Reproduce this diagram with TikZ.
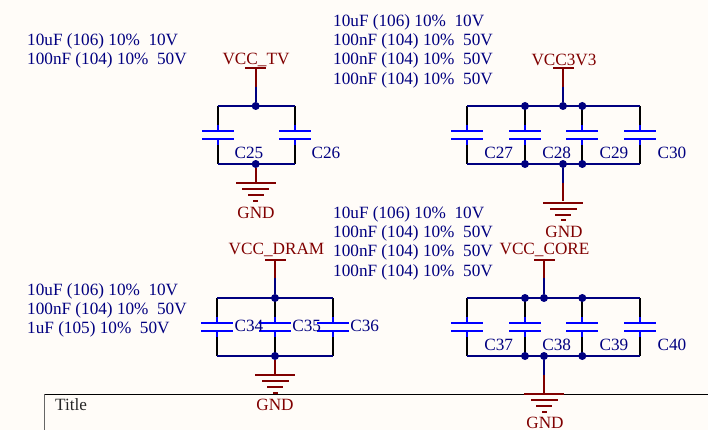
\documentclass[tikz,border=0pt]{standalone}
\usepackage{fontspec}
\setmainfont{Liberation Serif}
\usetikzlibrary{positioning}
\definecolor{paper}{HTML}{FFFCF8}
\definecolor{netblue}{HTML}{000080}
\definecolor{capblue}{HTML}{0000FF}
\definecolor{pwrred}{HTML}{800000}

\begin{document}
\begin{tikzpicture}[x=1pt,y=-1pt]
            \tikzstyle{wire} = [netblue, line width=2pt]
            \tikzstyle{lead} = [black, line width=2pt]
            \tikzstyle{stub} = [capblue, line width=2pt]
            \tikzstyle{pwr} = [pwrred, line width=2pt]
            \tikzstyle{plate} = [fill=capblue, inner sep=0pt, minimum width=32pt, minimum height=2.2pt]
            \tikzstyle{gbar} = [fill=pwrred, inner sep=0pt, minimum height=2.2pt]
            \tikzstyle{junction} = [fill=netblue, circle, inner sep=0pt, minimum size=8pt]
            \tikzstyle{note} = [netblue, anchor=north west, align=left, inner sep=0pt, font=\fontsize{17.2}{19.4}\selectfont]
            \tikzstyle{reflabel} = [netblue, inner sep=0pt, font=\fontsize{17.2}{19.4}\selectfont]
            \tikzstyle{netlabel} = [pwrred, inner sep=0pt, font=\fontsize{17.2}{19.4}\selectfont]

            \fill[paper] (0,0) rectangle (708,430);
            \useasboundingbox (0,0) rectangle (708,430);

            % title block
            \coordinate (fa) at (44.7,430);
            \coordinate (fb) at (44.7,394.3);
            \coordinate (fc) at (708,394.3);
            \draw[black!60, line width=1.2pt] (fa) -- (fb);
            \draw[black, line width=1.2pt] (fb) -- (fc);
            \node[inner sep=0pt, black!85, anchor=west, font=\fontsize{17.2}{19.4}\selectfont] (title) at (55,405) {Title};

            % capacitors
            \foreach \n/\x/\ytop in {25/217.5/106, 26/294.7/106,
                                     27/467.3/106, 28/525/106, 29/582.3/106, 30/640.3/106,
                                     34/217.3/298, 35/275/298, 36/333/298,
                                     37/467.3/298, 38/525/298, 39/582.3/298, 40/640.3/298}{
                  \coordinate (ct\n) at (\x,\ytop);
                  \coordinate (cb\n) at (\x,\ytop+58);
                  \coordinate (pa\n) at (\x,\ytop+19);
                  \coordinate (pb\n) at (\x,\ytop+39);
                  \node[plate] (ua\n) at (\x,\ytop+25) {};
                  \node[plate] (ub\n) at (\x,\ytop+33) {};
                  \draw[lead] (ct\n) -- (pa\n);
                  \draw[stub] (pa\n) -- (ua\n);
                  \draw[stub] (ub\n) -- (pb\n);
                  \draw[lead] (pb\n) -- (cb\n);
            }

            % horizontal nets
            \draw[wire] (ct25) -- (ct26);
            \draw[wire] (cb25) -- (cb26);
            \draw[wire] (ct27) -- (ct30);
            \draw[wire] (cb27) -- (cb30);
            \draw[wire] (ct34) -- (ct36);
            \draw[wire] (cb34) -- (cb36);
            \draw[wire] (ct37) -- (ct40);
            \draw[wire] (cb37) -- (cb40);

            % power and ground symbols
            \foreach \m/\x/\ypwr/\ygnd in {tv/255.7/67.7/183.3, vio/563/67.7/202.7, dram/275/260/375.3, core/544/260/394.3}{
                  \node[gbar, minimum width=21pt] (vbar\m) at (\x,\ypwr) {};
                  \node[gbar, minimum width=40pt] (ga\m) at (\x,\ygnd) {};
                  \node[gbar, minimum width=27pt] (gb\m) at (\x,\ygnd+6) {};
                  \node[gbar, minimum width=16pt] (gc\m) at (\x,\ygnd+12) {};
                  \node[gbar, minimum width=5pt] (gd\m) at (\x,\ygnd+17.5) {};
            }

            \node[junction] (jttv) at (255.7,106) {};
            \node[junction] (jbtv) at (255.7,164) {};
            \coordinate (mtv) at (255.7,86.7);
            \draw[pwr] (vbartv) -- (mtv);
            \draw[wire] (mtv) -- (jttv);
            \draw[pwr] (jbtv) -- (gatv);

            \node[junction] (jtvio) at (563,106) {};
            \node[junction] (jbvio) at (563,164) {};
            \coordinate (mvio) at (563,87);
            \coordinate (nvio) at (563,183);
            \draw[pwr] (vbarvio) -- (mvio);
            \draw[wire] (mvio) -- (jtvio);
            \draw[wire] (jbvio) -- (nvio);
            \draw[pwr] (nvio) -- (gavio);

            \node[junction] (jtdram) at (275,298) {};
            \node[junction] (jbdram) at (275,356) {};
            \coordinate (mdram) at (275,278);
            \draw[pwr] (vbardram) -- (mdram);
            \draw[wire] (mdram) -- (jtdram);
            \draw[pwr] (jbdram) -- (gadram);

            \node[junction] (jtcore) at (544,298) {};
            \node[junction] (jbcore) at (544,356) {};
            \coordinate (mcore) at (544,278);
            \coordinate (ncore) at (544,375);
            \draw[pwr] (vbarcore) -- (mcore);
            \draw[wire] (mcore) -- (jtcore);
            \draw[wire] (jbcore) -- (ncore);
            \draw[pwr] (ncore) -- (gacore);

            % junctions on the capacitors
            \foreach \n in {28,29,38,39}{
                  \node[junction] (jt\n) at (ct\n) {};
                  \node[junction] (jb\n) at (cb\n) {};
            }

            % net names
            \node[netlabel] (ntv) at (256,59.5) {VCC\_TV};
            \node[netlabel] (nvio3) at (564,59.5) {VCC3V3};
            \node[netlabel] (ndram) at (276.5,250) {VCC\_DRAM};
            \node[netlabel] (ncorel) at (544.5,250) {VCC\_CORE};
            \node[netlabel] (gndtv) at (256,212.5) {GND};
            \node[netlabel] (gndvio) at (564,231.5) {GND};
            \node[netlabel] (gnddram) at (275,404.5) {GND};
            \node[netlabel] (gndcore) at (545,422.5) {GND};

            % reference names
            \foreach \n/\x/\y in {25/249/152.7, 26/326/152.7,
                                  27/498.7/152.7, 28/556.7/152.7, 29/614/152.7, 30/672/152.7,
                                  34/249/326, 35/306.7/326, 36/364.7/326,
                                  37/498.7/345, 38/556.7/345, 39/614/345, 40/672/345}{
                  \node[reflabel] (rC\n) at (\x,\y) {C\n};
            }

            % part values
            \node[note] (notetv) at (27,33) {10uF (106) 10\%\ \ 10V\\100nF (104) 10\%\ \ 50V};
            \node[note] (notevio) at (333,14) {10uF (106) 10\%\ \ 10V\\100nF (104) 10\%\ \ 50V\\100nF (104) 10\%\ \ 50V\\100nF (104) 10\%\ \ 50V};
            \node[note] (notedram) at (27,283) {10uF (106) 10\%\ \ 10V\\100nF (104) 10\%\ \ 50V\\1uF (105) 10\%\ \ 50V};
            \node[note] (notecore) at (333,206) {10uF (106) 10\%\ \ 10V\\100nF (104) 10\%\ \ 50V\\100nF (104) 10\%\ \ 50V\\100nF (104) 10\%\ \ 50V};
      \end{tikzpicture}
\end{document}
